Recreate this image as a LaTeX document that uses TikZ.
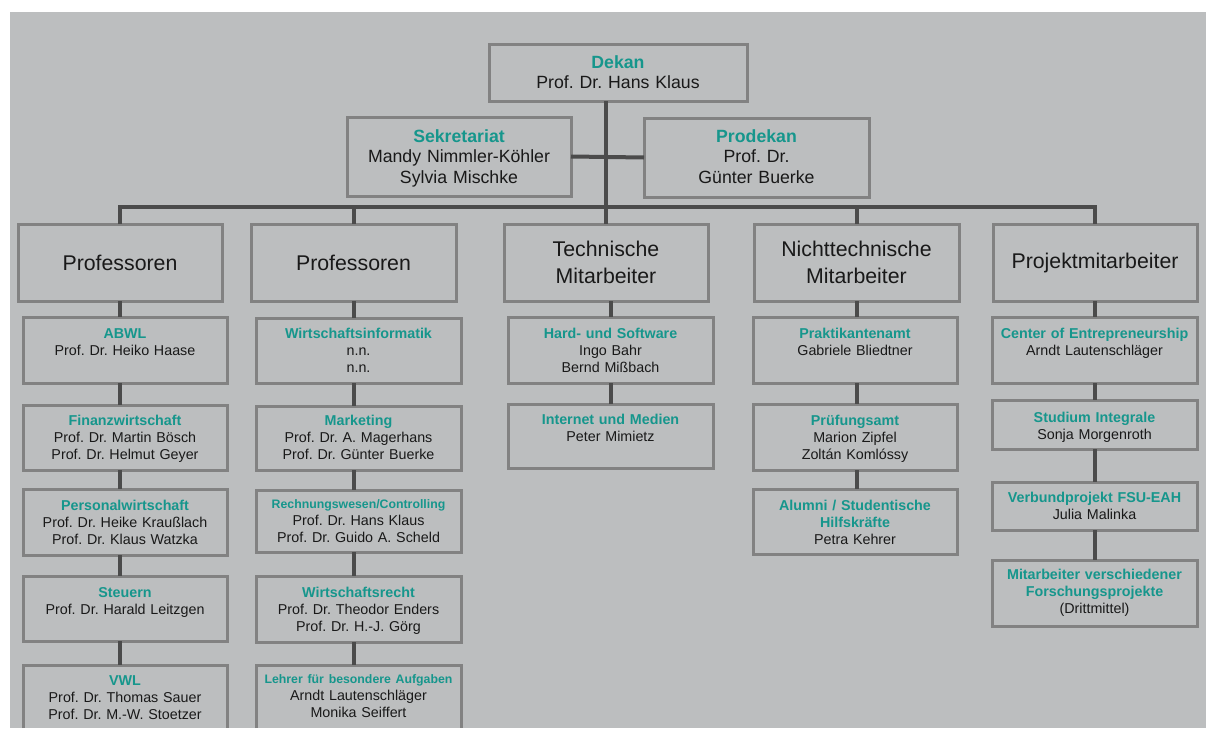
\documentclass[tikz,border=0pt]{standalone}
\usepackage{fontspec}
\setmainfont{Liberation Sans}
\usepackage{tikz}
\usetikzlibrary{positioning}
\definecolor{panel}{RGB}{188,190,191}
\definecolor{frame}{RGB}{130,130,130}
\definecolor{wire}{RGB}{75,75,75}
\definecolor{accent}{RGB}{22,150,140}
\definecolor{ink}{RGB}{25,25,25}
\newcommand{\fach}[1]{{\color{accent}\bfseries #1}}
\newcommand{\klein}{\fontsize{12.3}{15}\selectfont}
\frenchspacing

\begin{document}
\begin{tikzpicture}[
    x=1pt, y=-1pt,
    rim/.style={draw=frame, line width=3pt},
    box/.style={rim, anchor=north west, inner sep=0pt,
                outer sep=0pt, align=center, text=ink},
    lead/.style={box, font=\fontsize{17.7}{20.5}\selectfont, text height=24pt},
    colhead/.style={box, text width=204pt, minimum height=77pt,
                    font=\fontsize{21.3}{27}\selectfont},
    unit/.style={box, text width=204pt, font=\fontsize{14.3}{17}\selectfont,
                 text height=21pt, text depth=45pt},
    link/.style={draw=wire, line width=4pt},
]
\useasboundingbox (0,0) rectangle (1206,728);
\fill[white] (0,0) rectangle (1206,728);
\fill[panel] (10,12) rectangle (1206,728);

% Leitung
\node[lead, text width=258pt, text depth=33pt] (dekan) at (489,44) {\fach{Dekan}\\Prof. Dr. Hans Klaus};
\node[lead, text width=224pt, text height=25pt, text depth=54pt] (sekr) at (347,117) {\fach{Sekretariat}\\Mandy Nimmler-Köhler\\Sylvia Mischke};
\node[lead, text width=225pt, text depth=55pt] (prod) at (644,118) {\fach{Prodekan}\\Prof. Dr.\\Günter Buerke};

% Spalten
\node[colhead] (h1) at (18,224) {Professoren};
\node[colhead, text width=205pt] (h2) at (251,224) {Professoren};
\node[colhead] (h3) at (504,224) {Technische\\Mitarbeiter};
\node[colhead, text width=205pt] (h4) at (754,224) {Nichttechnische\\Mitarbeiter};
\node[colhead] (h5) at (993,224) {Projektmitarbeiter};

% Professoren (1)
\node[unit] (a1) at (23,317) {\fach{ABWL}\\Prof. Dr. Heiko Haase};
\node[unit, text height=20pt] (a2) at (23,405) {\fach{Finanzwirtschaft}\\Prof. Dr. Martin Bösch\\Prof. Dr. Helmut Geyer};
\node[unit] (a3) at (23,489) {\fach{Personalwirtschaft}\\Prof. Dr. Heike Kraußlach\\Prof. Dr. Klaus Watzka};
\node[unit, text depth=44pt] (a4) at (23,576) {\fach{Steuern}\\Prof. Dr. Harald Leitzgen};
\node[unit, draw=none, text height=20pt, text depth=43pt] (a5) at (23,665) {\fach{VWL}\\Prof. Dr. Thomas Sauer\\Prof. Dr. M.-W. Stoetzer};
\draw[rim] (a5.south west) -- (a5.north west) -- (a5.north east) -- (a5.south east);

% Professoren (2)
\node[unit, text width=205pt, text height=20pt] (b1) at (256,318) {\fach{Wirtschaftsinformatik}\\n.n.\\n.n.};
\node[unit, text width=205pt, text height=19pt] (b2) at (256,406) {\fach{Marketing}\\Prof. Dr. A. Magerhans\\Prof. Dr. Günter Buerke};
\node[unit, text width=205pt, text height=18pt, text depth=44pt] (b3) at (256,490) {\fach{\klein Rechnungswesen/Controlling}\\Prof. Dr. Hans Klaus\\Prof. Dr. Guido A. Scheld};
\node[unit, text width=205pt] (b4) at (256,576) {\fach{Wirtschaftsrecht}\\Prof. Dr. Theodor Enders\\Prof. Dr. H.-J. Görg};
\node[unit, draw=none, text width=205pt, text height=18pt, text depth=45pt] (b5) at (256,665) {\fach{\klein Lehrer für besondere Aufgaben}\\Arndt Lautenschläger\\Monika Seiffert};
\draw[rim] (b5.south west) -- (b5.north west) -- (b5.north east) -- (b5.south east);

% Technische Mitarbeiter
\node[unit, text width=205pt] (c1) at (508,317) {\fach{Hard- und Software}\\Ingo Bahr\\Bernd Mißbach};
\node[unit, text width=205pt, text height=20pt, text depth=44pt] (c2) at (508,404) {\fach{Internet und Medien}\\Peter Mimietz};

% Nichttechnische Mitarbeiter
\node[unit] (d1) at (753,317) {\fach{Praktikantenamt}\\Gabriele Bliedtner};
\node[unit] (d2) at (753,404) {\fach{Prüfungsamt}\\Marion Zipfel\\Zoltán Komlóssy};
\node[unit, text depth=44pt] (d3) at (753,489) {\fach{Alumni / Studentische}\\\fach{Hilfskräfte}\\Petra Kehrer};

% Projektmitarbeiter
\node[unit, text width=205pt] (e1) at (992,317) {\fach{Center of Entrepreneurship}\\Arndt Lautenschläger};
\node[unit, text width=205pt, text height=22pt, text depth=27pt] (e2) at (992,400) {\fach{Studium Integrale}\\Sonja Morgenroth};
\node[unit, text width=205pt, text height=20pt, text depth=28pt] (e3) at (992,482) {\fach{Verbundprojekt FSU-EAH}\\Julia Malinka};
\node[unit, text width=205pt, text height=19pt, text depth=47pt] (e4) at (992,560) {\fach{Mitarbeiter verschiedener}\\\fach{Forschungsprojekte}\\(Drittmittel)};

% Verbindungen
\coordinate (bus) at (0,207);
\draw[link] (dekan.south -| h3.north) -- (h3.north);
\draw[link] (sekr.east) -- (prod.west);
\draw[link] (h1.north) |- (bus -| h5.north) -- (h5.north);
\draw[link] (h2.north) -- (h2.north |- bus);
\draw[link] (h4.north) -- (h4.north |- bus);

\foreach \up/\dn in {h1/a1,a1/a2,a2/a3,a3/a4,a4/a5}
  \draw[link] (\up.south -| h1) -- (\dn.north -| h1);
\foreach \up/\dn in {h2/b1,b1/b2,b2/b3,b3/b4,b4/b5}
  \draw[link] (\up.south -| h2) -- (\dn.north -| h2);
\foreach \up/\dn in {h3/c1,c1/c2}
  \draw[link] (\up.south -| c1) -- (\dn.north -| c1);
\foreach \up/\dn in {h4/d1,d1/d2,d2/d3}
  \draw[link] (\up.south -| h4) -- (\dn.north -| h4);
\foreach \up/\dn in {h5/e1,e1/e2,e2/e3,e3/e4}
  \draw[link] (\up.south -| h5) -- (\dn.north -| h5);

\end{tikzpicture}
\end{document}
